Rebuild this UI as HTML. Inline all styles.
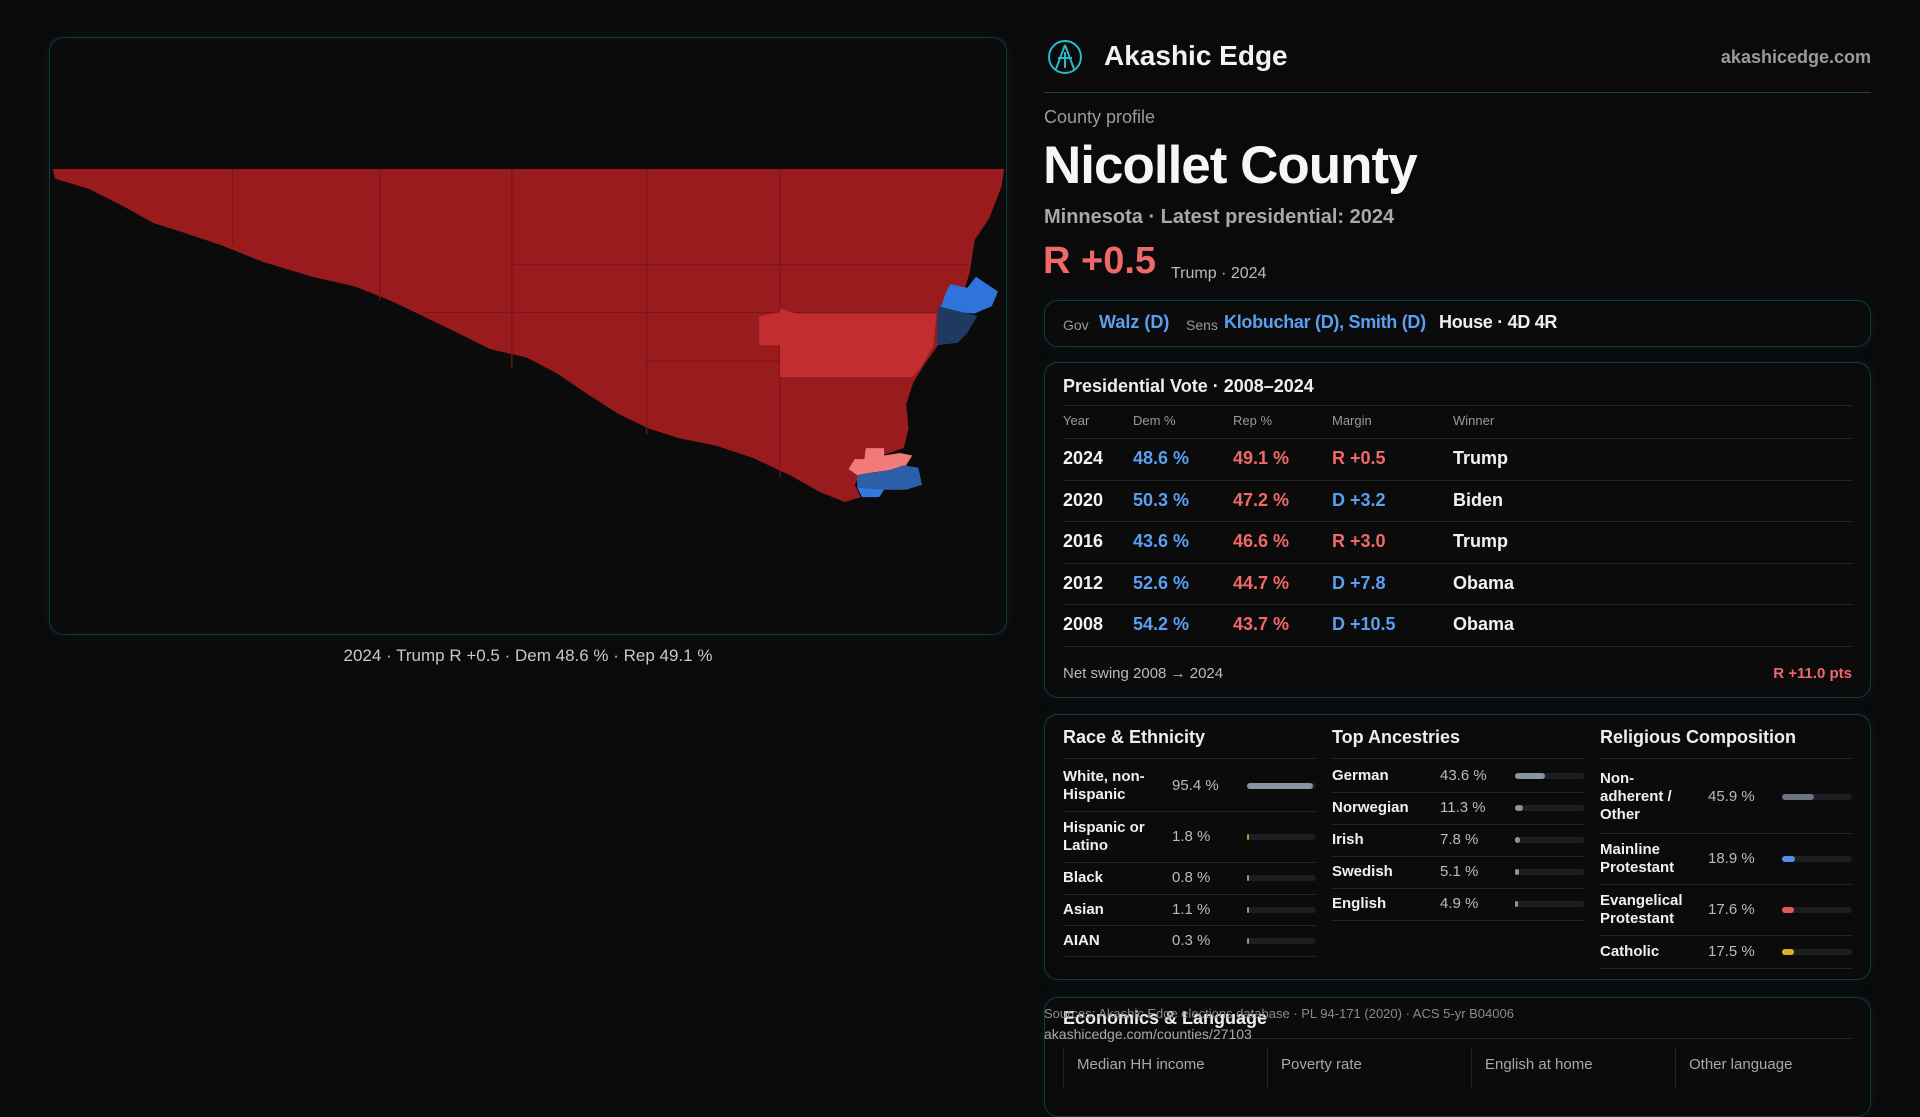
<!DOCTYPE html>
<html><head><meta charset="utf-8">
<style>
*{box-sizing:border-box;margin:0;padding:0}
body{width:1920px;height:1080px;background:#0a0a0b;font-family:"Liberation Sans",sans-serif;color:#eee;position:relative;overflow:hidden}
.abs{position:absolute;white-space:nowrap}
.panel{position:absolute;border:1px solid #133a40;border-radius:14px;background:#0b0b0c;box-shadow:0 0 14px rgba(20,90,100,0.18)}
.sep{position:absolute;height:1px;background:#222528}
.g{color:#9a9a9a}
.d{color:#5b9ff0}.r{color:#f06868}
</style></head><body>
<div class="panel" style="left:49px;top:37px;width:958px;height:598px"></div>
<svg class="abs" style="left:0;top:0" width="1920" height="1080" viewBox="0 0 1568 882">
<polygon fill="#991b1e" points="43,138 820,138 818,152 808,178 796,196 792,222 786,242 776,258 766,282 756,296 746,312 740,330 742,350 738,366 720,372 705,382 698,396 703,406 690,410 670,402 645,388 615,374 585,364 555,358 530,350 505,338 480,322 455,305 430,292 400,285 370,270 345,258 320,246 290,234 255,226 215,214 180,200 150,190 125,182 100,168 72,154 45,146"/>
<g stroke="#7d1518" stroke-width="1" fill="none">
<line x1="190" y1="138" x2="190" y2="200"/><line x1="310" y1="138" x2="310" y2="245"/><line x1="418" y1="138" x2="418" y2="300"/><line x1="528" y1="138" x2="528" y2="355"/><line x1="637" y1="138" x2="637" y2="390"/>
<line x1="418" y1="216" x2="790" y2="216"/><line x1="345" y1="255" x2="765" y2="255"/><line x1="528" y1="295" x2="745" y2="295"/>
</g>
<polygon fill="#c22d30" points="620,258 637,255 637,252 650,256 765,256 762,283 752,300 745,308 637,308 637,282 620,282"/>
<polygon fill="#2f74dc" points="776,232 790,235 797,226 806,232 815,238 810,250 796,256 780,255 768,252 772,240"/>
<polygon fill="#1f3a60" points="766,250 782,254 798,258 790,272 782,280 765,282"/>
<polygon fill="#f07b78" points="707,366 722,366 722,372 735,370 745,372 740,380 726,384 712,386 700,388 693,383 698,375 706,375"/>
<polygon fill="#2c5fa8" points="700,388 726,384 738,380 750,382 753,396 740,400 722,400 700,398"/>
<polygon fill="#3577dc" points="700,398 722,400 718,406 704,406"/>
</svg>
<div class="abs g" style="left:0;width:1056px;text-align:center;top:646px;font-size:17px;color:#c8c8c8">2024 · Trump R +0.5 · Dem 48.6 % · Rep 49.1 %</div>

<svg class="abs" style="left:1046px;top:38px" width="38" height="38" viewBox="0 0 38 38"><circle cx="19" cy="19" r="16" fill="none" stroke="#2bb8c8" stroke-width="2"/><path d="M19 7 L10 31 M19 7 L28 31 M12 20 L26 20 M19 14 L19 30" stroke="#2bb8c8" stroke-width="2" fill="none"/></svg>
<div class="abs" style="left:1104px;top:40px;font-size:28px;font-weight:bold;color:#f2f2f2">Akashic Edge</div>
<div class="abs" style="right:49px;top:47px;font-size:18px;font-weight:bold;color:#9a9a9a">akashicedge.com</div>
<div class="sep" style="left:1044px;width:827px;top:92px;background:#173f45"></div>
<div class="abs g" style="left:1044px;top:107px;font-size:18px">County profile</div>
<div class="abs" style="left:1043px;top:135px;font-size:53px;font-weight:bold;color:#f6f6f6;letter-spacing:-1px">Nicollet County</div>
<div class="abs" style="left:1044px;top:206px;font-size:20px;font-weight:bold;color:#a8a8a8">Minnesota · Latest presidential: 2024</div>
<div class="abs r" style="left:1043px;top:240px;font-size:38px;font-weight:bold">R +0.5</div>
<div class="abs" style="left:1171px;top:265px;font-size:16px;color:#bbb">Trump · 2024</div>

<div class="panel" style="left:1044px;top:300px;width:827px;height:47px">
<span class="abs g" style="left:18px;top:16px;font-size:14px">Gov</span>
<span class="abs d" style="left:54px;top:11px;font-size:18px;font-weight:bold">Walz (D)</span>
<span class="abs g" style="left:141px;top:16px;font-size:14px">Sens</span>
<span class="abs d" style="left:179px;top:11px;font-size:18px;font-weight:bold;letter-spacing:-0.3px">Klobuchar (D), Smith (D)</span>
<span class="abs" style="left:394px;top:11px;font-size:18px;font-weight:bold;letter-spacing:-0.3px">House · 4D 4R</span>
</div>

<div class="panel" style="left:1044px;top:362px;width:827px;height:336px"></div>
<div class="abs" style="left:1063px;top:376px;font-size:18px;font-weight:bold">Presidential Vote · 2008–2024</div>
<div class="sep" style="left:1063px;width:790px;top:405px"></div>
<div class="abs g" style="left:1063px;top:665px;font-size:15px;color:#bbb">Net swing 2008 → 2024</div>
<div class="abs r" style="right:68px;top:665px;font-size:15px;font-weight:bold">R +11.0 pts</div>

<div class="panel" style="left:1044px;top:714px;width:827px;height:266px"></div>

<div class="panel" style="left:1044px;top:997px;width:827px;height:120px"></div>
<div class="abs" style="left:1063px;top:1008px;font-size:18px;font-weight:bold">Economics &amp; Language</div>
<div class="sep" style="left:1063px;width:790px;top:1038px"></div>
<div class="abs" style="left:1044px;top:1006px;font-size:13px;color:#8a8a8a">Sources: Akashic Edge elections database · PL 94-171 (2020) · ACS 5-yr B04006</div>
<div class="abs" style="left:1044px;top:1026px;font-size:14px;color:#aaa">akashicedge.com/counties/27103</div>

<script>
const years=[2024,2020,2016,2012,2008];
const demPct=[48.6,50.3,43.6,52.6,54.2];
const repPct=[49.1,47.2,46.6,44.7,43.7];
const margins=[0.5,-3.2,3.0,-7.8,-10.5];
const winners=["Trump","Biden","Trump","Obama","Obama"];
const raceLabels=["White, non-<br>Hispanic","Hispanic or<br>Latino","Black","Asian","AIAN"];
const raceVals=[95.4,1.8,0.8,1.1,0.3];
const ancLabels=["German","Norwegian","Irish","Swedish","English"];
const ancVals=[43.6,11.3,7.8,5.1,4.9];
const relLabels=["Non-<br>adherent /<br>Other","Mainline<br>Protestant","Evangelical<br>Protestant","Catholic"];
const relVals=[45.9,18.9,17.6,17.5];
const econLabels=["Median HH income","Poverty rate","English at home","Other language"];

function el(html,css){const d=document.createElement('div');d.className='abs';d.style.cssText=css;d.innerHTML=html;document.body.appendChild(d);return d;}
const cols=[1063,1133,1233,1332,1453];
["Year","Dem %","Rep %","Margin","Winner"].forEach((h,i)=>{
 const e=el(h,`left:${cols[i]}px;top:413px;font-size:13px;color:#999`);
 
 
});
const rowY=y=>438+y*41.6;
const s0=document.createElement('div');s0.className='sep';s0.style.cssText='left:1063px;width:790px;top:438px';document.body.appendChild(s0);
years.forEach((yr,i)=>{
 const t=rowY(i)+10;
 const m=margins[i];
 const mt=m>0?`R +${m.toFixed(1)}`:`D +${(-m).toFixed(1)}`;
 const vals=[[yr,'#f2f2f2'],[demPct[i].toFixed(1)+' %','#5b9ff0'],[repPct[i].toFixed(1)+' %','#f06868'],[mt,m>0?'#f06868':'#5b9ff0'],[winners[i],'#f2f2f2']];
 vals.forEach((v,j)=>{
  const e=el(v[0],`left:${cols[j]}px;top:${t}px;font-size:18px;font-weight:bold;color:${v[1]}`);
  
  
 });
 const s=document.createElement('div');s.className='sep';s.style.cssText=`left:1063px;width:790px;top:${rowY(i+1)}px`;
 
 
 document.body.appendChild(s);
});
function section(title,x,labels,vals,valX,barX,barW,heights,colors,name){
 const h=el(title,`left:${x}px;top:727px;font-size:18px;font-weight:bold`);
 
 
 const s=document.createElement('div');s.className='sep';s.style.cssText=`left:${x}px;width:${barX+barW-x}px;top:758px`;document.body.appendChild(s);
 let y=760;
 labels.forEach((l,i)=>{
  const hh=heights[i];const cy=y+hh/2;
  const lb=el(l,`left:${x}px;top:${cy-(l.split('<br>').length*18)/2}px;font-size:15px;font-weight:bold;line-height:18px;color:#f0f0f0`);
  
  
  const v=el(vals[i].toFixed(1)+' %',`left:${valX}px;top:${cy-9}px;font-size:15px;color:#bbb`);
  
  
  const tr=el('',`left:${barX}px;top:${cy-3}px;width:${barW}px;height:6px;border-radius:3px;background:#1c1e22`);
  
  
  const f=el('',`left:${barX}px;top:${cy-3}px;width:${Math.max(2,barW*vals[i]/100)}px;height:6px;border-radius:3px;background:${colors[i]}`);
  
  
  y+=hh;
  const sp=document.createElement('div');sp.className='sep';sp.style.cssText=`left:${x}px;width:${barX+barW-x}px;top:${y}px`;document.body.appendChild(sp);
 });
}
section("Race &amp; Ethnicity",1063,raceLabels,raceVals,1172,1247,69,[51,51,32,31,31],["#8a93a3","#d08a20","#8a93a3","#8a93a3","#8a93a3"],'race');
section("Top Ancestries",1332,ancLabels,ancVals,1440,1515,69,[32,32,32,32,32],["#8a93a3","#8a93a3","#8a93a3","#8a93a3","#8a93a3"],'ancestry');
section("Religious Composition",1600,relLabels,relVals,1708,1782,70,[73,51,51,33],["#6e7380","#4f8fe8","#e05858","#e0b020"],'religion');
econLabels.forEach((l,i)=>{
 const x=1063+i*204;
 const s=el('',`left:${x}px;top:1048px;width:1px;height:40px;background:#222528`);
 
 
 const e=el(l,`left:${x+14}px;top:1056px;font-size:15px;color:#a8a8a8`);
 
 
});
</script>
</body></html>
